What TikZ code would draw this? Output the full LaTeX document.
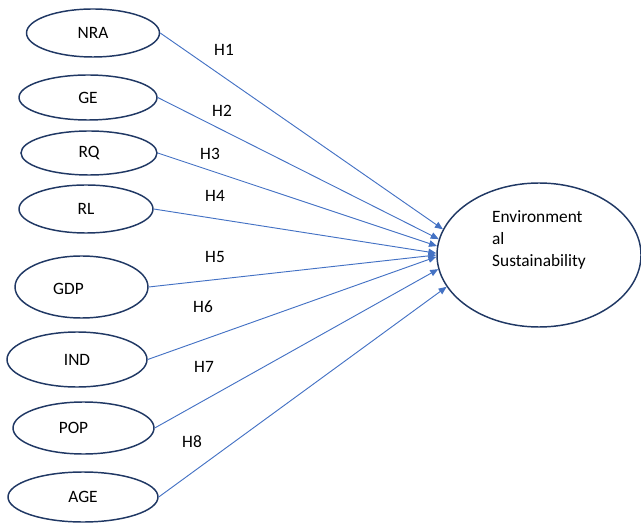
\documentclass[tikz,border=0pt]{standalone}
\usepackage{fontspec}
\setmainfont{Carlito}
\usetikzlibrary{shapes.geometric,arrows.meta}
\definecolor{navy}{HTML}{203864}
\definecolor{lineblue}{HTML}{4472C4}
\begin{document}
\begin{tikzpicture}[x=0.75pt,y=-0.75pt,
  font=\fontsize{13}{16.5}\selectfont,
  var/.style={ellipse, draw=navy, line width=1.1pt, inner sep=0pt},
  hyp/.style={draw=lineblue, line width=0.7pt, -{Triangle[length=6pt,width=5pt]}},
  hlab/.style={inner sep=0pt}]
\useasboundingbox (0,0) rectangle (641,523);
\node[var, minimum width=99.75pt, minimum height=36pt] (nra) at (93,33) {NRA};
\node[var, minimum width=103.5pt, minimum height=33.75pt] (ge) at (88,97.5) {GE};
\node[var, minimum width=102pt, minimum height=33pt] (rq) at (89,153) {RQ};
\node[var, minimum width=100.5pt, minimum height=36pt] (rl) at (86,209) {RL};
\node[var, minimum width=99.75pt, minimum height=46.5pt, label={[xshift=-9.75pt,yshift=-1.5pt]center:GDP}] (gdp) at (81.5,287) {};
\node[var, minimum width=105pt, minimum height=41.25pt] (ind) at (77,359.5) {IND};
\node[var, minimum width=105.75pt, minimum height=39pt, label={[xshift=-7.5pt]center:POP}] (pop) at (83.5,428) {};
\node[var, minimum width=112.5pt, minimum height=37.5pt] (age) at (83,497) {AGE};
\node[var, minimum width=153pt, minimum height=108pt,
  label={[align=left, yshift=11.25pt]center:Environment\\al\\Sustainability}] (es) at (539,255) {};
\draw[hyp] (nra.east) -- (es.165.4);
\draw[hyp] (ge.east) -- (es.171.4);
\draw[hyp] (rq.east) -- (es.175);
\draw[hyp] (rl.east) -- (es.179);
\draw[hyp] (gdp.east) -- (es.180.5);
\draw[hyp] (ind.east) -- (es.181);
\draw[hyp] (pop.east) -- (es.188);
\draw[hyp] (age.east) -- (es.199.5);
\node[hlab] (h1) at (224,50) {H1};
\node[hlab] (h2) at (222,111) {H2};
\node[hlab] (h3) at (210,154) {H3};
\node[hlab] (h4) at (215,196) {H4};
\node[hlab] (h5) at (215,257) {H5};
\node[hlab] (h6) at (203,307) {H6};
\node[hlab] (h7) at (204,367) {H7};
\node[hlab] (h8) at (192,442) {H8};
\end{tikzpicture}
\end{document}
